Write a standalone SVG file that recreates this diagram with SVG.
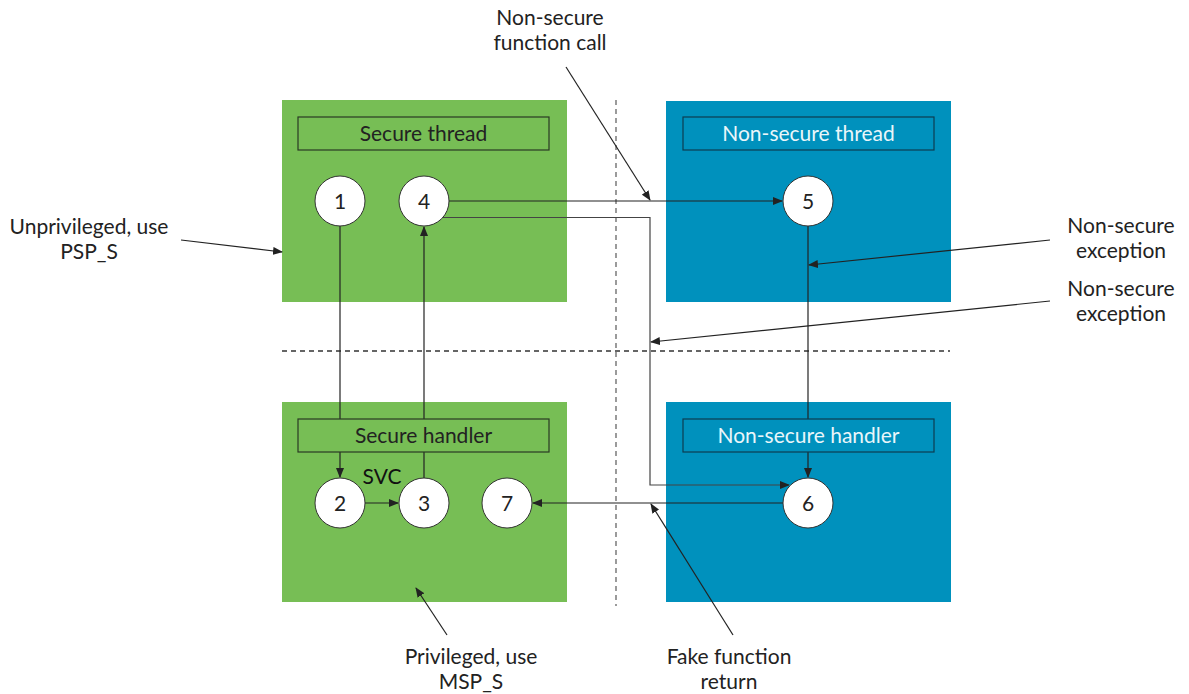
<svg xmlns="http://www.w3.org/2000/svg" width="1189" height="694" viewBox="0 0 1189 694">
<style>
.t{font-family:Lato,"Open Sans","Liberation Sans",sans-serif;font-size:21px;fill:#222;text-anchor:middle}
.g{fill:#77BE55}
.b{fill:#0091BD}
.gl{fill:#77BE55;stroke:#2a3a24;stroke-width:1.2}
.bl{fill:#0091BD;stroke:#0d3d50;stroke-width:1.2}
.w{fill:#eaf6fa}
.c{fill:#fff;stroke:#333;stroke-width:1}
.ln{fill:none;stroke:#222;stroke-width:1.2}
.dash{fill:none;stroke:#666;stroke-width:1.3;stroke-dasharray:5 4}
</style>
<defs>
<marker id="ah" markerWidth="10" markerHeight="8" refX="9" refY="4" orient="auto" markerUnits="userSpaceOnUse">
<path d="M0,0 L10,4 L0,8 Z" fill="#222"/>
</marker>
</defs>
<rect width="1189" height="694" fill="#fff"/>
<g id="regions">
<rect id="sec-thread-area" class="g" x="282" y="100" width="285" height="202"/>
<rect id="ns-thread-area" class="b" x="666" y="101" width="285" height="201"/>
<rect id="sec-handler-area" class="g" x="282" y="402" width="285" height="200"/>
<rect id="ns-handler-area" class="b" x="666" y="402" width="285" height="200"/>
</g>
<g id="dividers">
<line class="dash" x1="616" y1="100" x2="616" y2="606"/>
<line class="dash" x1="282" y1="351" x2="950" y2="351" style="stroke:#333"/>
</g>
<g id="connectors">
<line class="ln" x1="449" y1="201" x2="782" y2="201" marker-end="url(#ah)"/>
<polyline class="ln" points="443,217.5 650,217.5 650,485 789,485" marker-end="url(#ah)" style="stroke:#444"/>
<line class="ln" x1="340" y1="226" x2="340" y2="477" marker-end="url(#ah)"/>
<line class="ln" x1="424" y1="478" x2="424" y2="227" marker-end="url(#ah)"/>
<line class="ln" x1="365" y1="503" x2="398" y2="503" marker-end="url(#ah)"/>
<line class="ln" x1="808" y1="226" x2="808" y2="477" marker-end="url(#ah)"/>
<line class="ln" x1="783" y1="503" x2="533" y2="503" marker-end="url(#ah)"/>
<line class="ln" x1="566" y1="67" x2="650" y2="200" marker-end="url(#ah)"/>
<line class="ln" x1="181" y1="240" x2="282" y2="252" marker-end="url(#ah)"/>
<line class="ln" x1="1050" y1="240" x2="809" y2="265" marker-end="url(#ah)"/>
<line class="ln" x1="1050" y1="301" x2="651" y2="342" marker-end="url(#ah)"/>
<line class="ln" x1="447" y1="635" x2="416" y2="588" marker-end="url(#ah)"/>
<line class="ln" x1="733" y1="635" x2="651" y2="504" marker-end="url(#ah)"/>
</g>
<g id="secure-thread">
<rect class="gl" x="298" y="117" width="251" height="33"/>
<text class="t" x="423.5" y="141">Secure thread</text>
</g>
<g id="ns-thread">
<rect class="bl" x="683" y="117" width="251" height="33"/>
<text class="t w" x="808.5" y="141">Non-secure thread</text>
</g>
<g id="secure-handler">
<rect class="gl" x="298" y="419" width="251" height="33"/>
<text class="t" x="423.5" y="443">Secure handler</text>
</g>
<g id="ns-handler">
<rect class="bl" x="683" y="419" width="251" height="33"/>
<text class="t w" x="808.5" y="443">Non-secure handler</text>
</g>
<g id="n1"><circle class="c" cx="340" cy="201" r="25"/><text class="t" x="340" y="208.5">1</text></g>
<g id="n4"><circle class="c" cx="424" cy="201" r="25"/><text class="t" x="424" y="208.5">4</text></g>
<g id="n5"><circle class="c" cx="808" cy="201" r="25"/><text class="t" x="808" y="208.5">5</text></g>
<g id="n2"><circle class="c" cx="340" cy="503" r="25"/><text class="t" x="340" y="510.5">2</text></g>
<g id="n3"><circle class="c" cx="424" cy="503" r="25"/><text class="t" x="424" y="510.5">3</text></g>
<g id="n7"><circle class="c" cx="507" cy="503" r="25"/><text class="t" x="507" y="510.5">7</text></g>
<g id="n6"><circle class="c" cx="808" cy="503" r="25"/><text class="t" x="808" y="510.5">6</text></g>
<g id="labels">
<text class="t" x="382" y="484" style="fill:#111">SVC</text>
<text class="t" x="550" y="25">Non-secure</text>
<text class="t" x="550" y="50">function call</text>
<text class="t" x="89" y="234">Unprivileged, use</text>
<text class="t" x="89" y="259">PSP_S</text>
<text class="t" x="1121" y="233">Non-secure</text>
<text class="t" x="1121" y="258">exception</text>
<text class="t" x="1121" y="296">Non-secure</text>
<text class="t" x="1121" y="321">exception</text>
<text class="t" x="471" y="664">Privileged, use</text>
<text class="t" x="471" y="689">MSP_S</text>
<text class="t" x="729" y="664">Fake function</text>
<text class="t" x="729" y="689">return</text>
</g>
</svg>
